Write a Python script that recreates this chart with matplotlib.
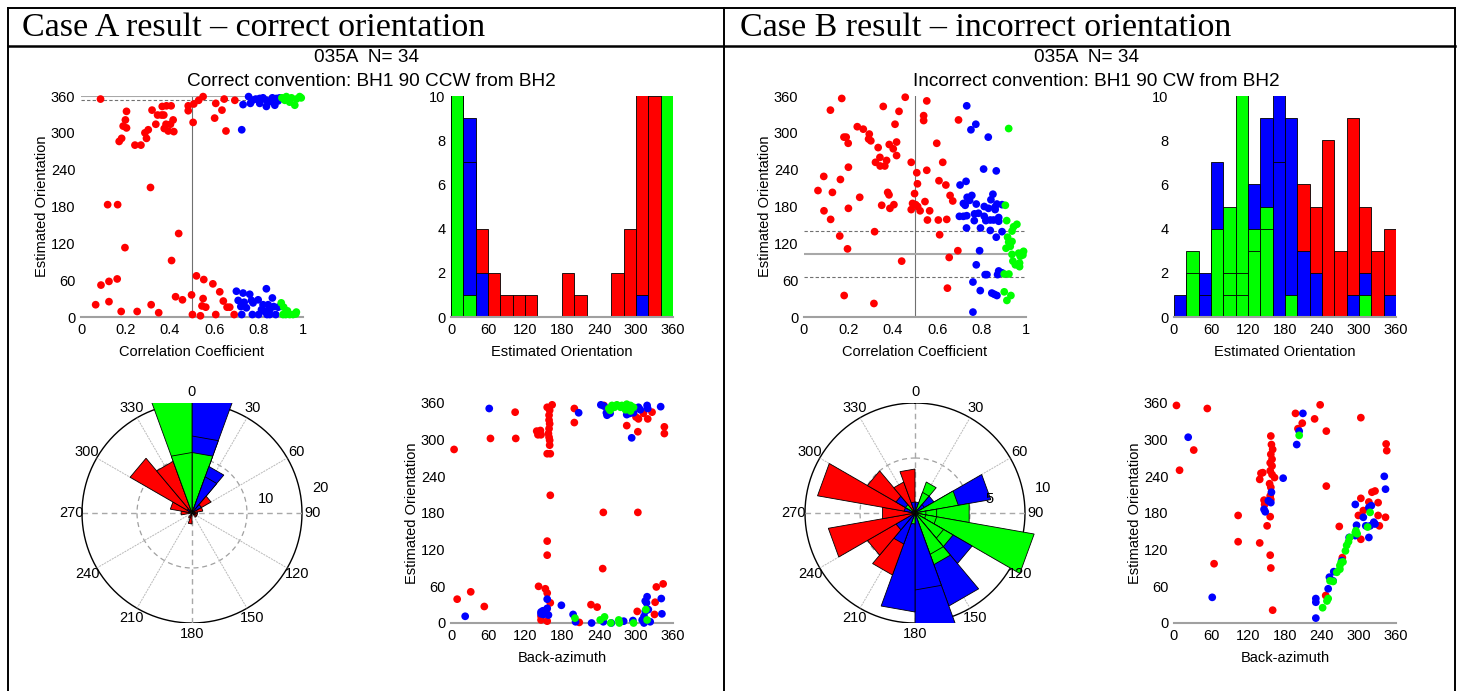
import numpy as np
import matplotlib.pyplot as plt
from matplotlib.lines import Line2D

plt.rcParams['font.family'] = ['Liberation Sans', 'DejaVu Sans']

RED, BLUE, GREEN = '#ff0000', '#0000ff', '#00ff00'
COL = {'r': RED, 'b': BLUE, 'g': GREEN}

# ---------------- Case A : correct orientation ----------------
# estimated orientation vs correlation coefficient  (cc, orientation)
a_cc_red = [(0.088, 355), (0.205, 335), (0.20, 321), (0.19, 311), (0.205, 308), (0.183, 291),
            (0.172, 286), (0.243, 280), (0.27, 280), (0.295, 291), (0.288, 300), (0.303, 305),
            (0.32, 337), (0.337, 314), (0.345, 329), (0.363, 329), (0.373, 329), (0.366, 343),
            (0.385, 344), (0.406, 344), (0.383, 314), (0.375, 307), (0.393, 303), (0.418, 302),
            (0.415, 321), (0.403, 314), (0.483, 344), (0.483, 336), (0.505, 317), (0.508, 347),
            (0.55, 359), (0.53, 353), (0.607, 348), (0.602, 324), (0.635, 337), (0.645, 355),
            (0.653, 303), (0.693, 353), (0.313, 211), (0.12, 183), (0.165, 183), (0.198, 113),
            (0.44, 136), (0.408, 92), (0.066, 20), (0.09, 52), (0.126, 58), (0.163, 62),
            (0.126, 25), (0.181, 9), (0.253, 9), (0.316, 20), (0.35, 7), (0.426, 33),
            (0.457, 28), (0.498, 36), (0.502, 4), (0.52, 67), (0.553, 61), (0.55, 30),
            (0.545, 18), (0.562, 16), (0.538, 2), (0.594, 54), (0.625, 41), (0.641, 26),
            (0.658, 16), (0.67, 16), (0.607, 4), (0.69, 4)]
a_cc_blue = [(0.724, 305), (0.73, 346), (0.755, 359), (0.763, 348), (0.787, 355), (0.805, 348),
             (0.82, 357), (0.835, 353), (0.835, 343), (0.853, 351), (0.873, 345), (0.88, 356),
             (0.888, 352), (0.772, 353), (0.805, 356), (0.862, 357), (0.895, 357),
             (0.70, 42), (0.73, 39), (0.708, 27), (0.72, 17), (0.724, 4), (0.735, 24),
             (0.745, 15), (0.76, 37), (0.768, 27), (0.775, 23), (0.798, 28), (0.80, 4),
             (0.813, 12), (0.828, 9), (0.835, 46), (0.843, 20), (0.85, 4), (0.862, 31),
             (0.868, 17), (0.877, 4), (0.888, 16), (0.82, 20), (0.85, 12), (0.772, 4), (0.838, 4)]
a_cc_green = [(0.902, 23), (0.913, 16), (0.922, 4), (0.93, 10), (0.94, 4), (0.97, 8),
              (0.967, 5), (0.91, 4), (0.955, 4), (0.905, 357), (0.925, 359), (0.948, 357),
              (0.963, 345), (0.985, 359), (0.918, 353), (0.97, 355), (0.94, 350), (0.992, 357)]
a_mean, a_std = 359.5, 6.0

# estimated orientation vs back-azimuth  (baz, orientation)
a_baz_red = [(5, 284), (10, 39), (32, 51), (54, 27), (64, 302), (105, 302), (104, 345),
             (139, 314), (141, 308), (145, 315), (146, 308), (142, 60), (146, 5), (146, 11),
             (153, 56), (156, 49), (156, 353), (159, 340), (159, 332), (160, 326), (159, 318),
             (158, 310), (159, 304), (160, 299), (160, 291), (156, 277), (161, 277), (164, 357),
             (161, 209), (156, 134), (156, 111), (155, 22), (156, 3), (161, 33), (160, 348),
             (200, 351), (200, 328), (208, 1), (227, 30), (237, 26), (247, 181), (246, 89),
             (248, 356), (285, 323), (303, 313), (303, 181), (304, 334), (300, 337), (312, 343),
             (319, 334), (326, 345), (333, 59), (344, 64), (346, 321), (346, 310), (330, 14),
             (331, 34), (302, 19)]
a_baz_blue = [(23, 11), (62, 351), (179, 29), (156, 24), (156, 39), (149, 20), (146, 18),
              (146, 15), (150, 14), (158, 13), (198, 14), (202, 2), (207, 344), (228, 0),
              (243, 357), (248, 355), (253, 340), (252, 344), (258, 343), (260, 0), (285, 341),
              (290, 343), (293, 303), (296, 344), (304, 353), (307, 349), (318, 356), (319, 351),
              (340, 354), (310, 5), (313, 0), (313, 11), (315, 19), (318, 43), (315, 36),
              (317, 33), (320, 22), (323, 2), (342, 15), (341, 40), (280, 3), (295, 4), (247, 2)]
a_baz_green = [(201, 8), (242, 5), (249, 10), (259, 0), (272, 5), (273, 0), (296, 0), (316, 22),
               (318, 5), (256, 351), (261, 356), (269, 357), (277, 356), (285, 358), (291, 356),
               (296, 353), (291, 347), (283, 349), (275, 353), (265, 353), (258, 348)]

# counts per 20-degree bin, overlaid layers (colour, top)
a_hist = [[('g', 11), ('b', 14), ('b', 23)], [('g', 1), ('b', 7), ('b', 9)], [('b', 2), ('r', 4)],
          [('r', 2)], [('r', 1)], [('r', 1)], [('r', 1)], [], [], [('r', 2)], [('r', 1)], [], [],
          [('r', 2)], [('r', 4)], [('b', 1), ('r', 13)], [('r', 10)], [('g', 11), ('g', 23)]]

# ---------------- Case B : incorrect orientation ----------------
b_cc_red = [(0.063, 206), (0.089, 229), (0.09, 173), (0.119, 337), (0.128, 203), (0.12, 159),
            (0.161, 132), (0.164, 224), (0.17, 356), (0.18, 293), (0.19, 293), (0.199, 283),
            (0.2, 244), (0.2, 177), (0.181, 35), (0.196, 111), (0.24, 310), (0.251, 195),
            (0.267, 306), (0.291, 290), (0.294, 298), (0.301, 287), (0.334, 276), (0.342, 260),
            (0.322, 252), (0.343, 246), (0.364, 246), (0.372, 255), (0.357, 343), (0.35, 182),
            (0.377, 203), (0.383, 199), (0.384, 281), (0.387, 177), (0.405, 183), (0.402, 274),
            (0.41, 314), (0.417, 285), (0.417, 263), (0.428, 335), (0.456, 358), (0.318, 139),
            (0.44, 91), (0.315, 22), (0.483, 252), (0.489, 185), (0.483, 175), (0.498, 201),
            (0.508, 235), (0.511, 217), (0.503, 183), (0.512, 180), (0.523, 173), (0.539, 328),
            (0.539, 320), (0.553, 352), (0.545, 188), (0.553, 239), (0.556, 158), (0.566, 173),
            (0.598, 283), (0.608, 222), (0.605, 158), (0.611, 134), (0.625, 252), (0.639, 215),
            (0.643, 159), (0.646, 47), (0.658, 198), (0.67, 189), (0.654, 97), (0.696, 321),
            (0.693, 108)]
b_cc_blue = [(0.733, 344), (0.752, 305), (0.774, 314), (0.83, 293), (0.809, 241), (0.866, 238),
             (0.703, 215), (0.73, 221), (0.735, 195), (0.746, 190), (0.756, 198), (0.718, 185),
             (0.726, 182), (0.70, 164), (0.718, 164), (0.733, 165), (0.732, 145), (0.768, 168),
             (0.767, 157), (0.786, 169), (0.776, 184), (0.795, 145), (0.812, 164), (0.819, 157),
             (0.812, 180), (0.831, 177), (0.842, 191), (0.851, 200), (0.86, 179), (0.839, 158),
             (0.854, 158), (0.869, 184), (0.877, 162), (0.861, 175), (0.877, 156), (0.839, 141),
             (0.866, 130), (0.892, 139), (0.892, 183), (0.791, 108), (0.776, 85), (0.761, 57),
             (0.761, 8), (0.794, 43), (0.816, 69), (0.824, 69), (0.846, 39), (0.857, 37),
             (0.869, 35), (0.872, 69), (0.877, 75), (0.892, 72)]
b_cc_green = [(0.907, 182), (0.913, 157), (0.922, 307), (0.917, 130), (0.922, 122), (0.929, 115),
              (0.91, 112), (0.937, 140), (0.944, 147), (0.959, 151), (0.937, 102), (0.941, 91),
              (0.952, 85), (0.971, 88), (0.971, 82), (0.967, 104), (0.982, 104), (0.986, 101),
              (0.974, 99), (0.989, 107), (0.923, 70), (0.902, 70), (0.902, 41), (0.932, 35),
              (0.914, 27), (0.937, 123)]
b_mean, b_std = 103.0, 37.5

b_baz_red = [(4, 356), (9, 250), (54, 351), (32, 283), (65, 97), (104, 176), (104, 133),
             (139, 235), (139, 131), (141, 245), (144, 246), (146, 201), (147, 194), (151, 159),
             (156, 174), (157, 306), (158, 292), (160, 284), (157, 276), (159, 268), (156, 262),
             (159, 257), (156, 249), (159, 243), (155, 228), (157, 222), (156, 208), (157, 202),
             (156, 111), (157, 90), (160, 21), (163, 238), (197, 343), (201, 318), (208, 327),
             (228, 334), (237, 357), (247, 314), (247, 224), (268, 158), (273, 107), (303, 336),
             (303, 204), (303, 137), (299, 176), (307, 184), (316, 198), (321, 214), (326, 216),
             (331, 197), (331, 176), (333, 159), (344, 293), (345, 282), (343, 173), (246, 45)]
b_baz_blue = [(23, 304), (62, 42), (177, 237), (158, 214), (157, 197), (153, 200), (146, 186),
              (148, 182), (199, 292), (203, 314), (209, 343), (230, 8), (230, 40), (230, 34),
              (250, 56), (252, 75), (258, 69), (259, 84), (272, 102), (284, 140), (294, 194),
              (296, 160), (294, 143), (307, 173), (316, 189), (320, 192), (316, 140), (311, 159),
              (324, 165), (326, 162), (318, 159), (341, 240), (343, 219)]
b_baz_green = [(203, 307), (241, 25), (248, 36), (250, 40), (253, 69), (258, 68), (264, 83),
               (269, 88), (271, 99), (278, 118), (280, 127), (283, 133), (285, 140), (294, 148),
               (297, 146), (295, 151), (314, 157), (318, 181), (274, 100), (269, 94)]

b_hist = [[('b', 1)], [('g', 2), ('g', 3)], [('b', 1), ('b', 2)], [('g', 4), ('b', 7)],
          [('g', 1), ('g', 2), ('g', 5)], [('g', 1), ('g', 2), ('g', 11)],
          [('g', 3), ('g', 4), ('b', 6)], [('g', 4), ('g', 5), ('b', 9)], [('b', 7), ('b', 11)],
          [('g', 1), ('b', 9)], [('b', 3), ('r', 6)], [('b', 2), ('r', 5)], [('r', 8)],
          [('r', 3)], [('b', 1), ('r', 9)], [('g', 1), ('b', 2), ('r', 5)], [('r', 3)],
          [('b', 1), ('r', 4)]]

bin_edges = np.arange(0, 360, 20)

W, H = 1462, 691
fig = plt.figure(figsize=(W / 100, H / 100), dpi=100)
FS = 10.5


def px_axes(x0, y0, x1, y1):
    return fig.add_axes([x0 / W, 1 - y1 / H, (x1 - x0) / W, (y1 - y0) / H])


def frame_line(xs, ys, lw=1.4):
    fig.add_artist(Line2D([x / W for x in xs], [1 - y / H for y in ys], color='k', lw=lw))


def style(ax):
    for s in ('top', 'right', 'left'):
        ax.spines[s].set_visible(False)
    ax.spines['bottom'].set_color('#a0a0a0')
    ax.spines['bottom'].set_linewidth(1.5)
    ax.tick_params(length=0, pad=4, labelsize=FS)


def dots(ax, pts, color):
    x, y = np.array(pts, dtype=float).T
    ax.scatter(x, y, s=31, c=color, edgecolors='none', zorder=3, clip_on=False)


def labels(ax, xl, yl=None, dx=-0.175, dy=-0.16):
    ax.set_xlabel(xl, fontsize=FS, va='center')
    ax.xaxis.set_label_coords(0.5, dy)
    if yl:
        ax.set_ylabel(yl, fontsize=FS, va='center')
        ax.yaxis.set_label_coords(dx, 0.5)


def corr_panel(x0, red, blue, green, mean, std):
    ax = px_axes(x0, 96, x0 + 222, 317)
    style(ax)
    ax.axvline(0.5, color='#707070', lw=0.8, zorder=1)
    ax.axhline(mean, color='#a8a8a8', lw=1.5, zorder=1)
    for v in (mean - std, mean + std):
        ax.axhline(v, color='#707070', lw=0.8, ls=(0, (3, 2)), zorder=1)
    dots(ax, red, RED)
    dots(ax, blue, BLUE)
    dots(ax, green, GREEN)
    ax.set_xlim(0, 1)
    ax.set_ylim(0, 360)
    ax.set_xticks([0, 0.2, 0.4, 0.6, 0.8, 1])
    ax.set_xticklabels(['0', '0.2', '0.4', '0.6', '0.8', '1'])
    ax.set_yticks(range(0, 361, 60))
    labels(ax, 'Correlation Coefficient', 'Estimated Orientation')


def hist_panel(x0, segs):
    ax = px_axes(x0, 96, x0 + 222, 317)
    style(ax)
    for i, seg in enumerate(segs):
        for c, top in sorted(seg, key=lambda t: -t[1]):
            ax.bar(bin_edges[i], top, width=20, align='edge', color=COL[c],
                   edgecolor='k', linewidth=0.6, zorder=2)
    ax.set_xlim(0, 360)
    ax.set_ylim(0, 10)
    ax.set_xticks(range(0, 361, 60))
    ax.set_yticks(range(0, 11, 2))
    labels(ax, 'Estimated Orientation')


def baz_panel(x0, red, blue, green):
    ax = px_axes(x0, 403, x0 + 222, 623)
    style(ax)
    dots(ax, red, RED)
    dots(ax, blue, BLUE)
    dots(ax, green, GREEN)
    ax.set_xlim(0, 360)
    ax.set_ylim(0, 360)
    ax.set_xticks(range(0, 361, 60))
    ax.set_yticks(range(0, 361, 60))
    labels(ax, 'Back-azimuth', 'Estimated Orientation', dy=-0.16)


def rose_panel(cx, segs, rmax):
    hw = 165
    ax = px_axes(cx - hw, 403, cx + hw, 623)
    ax.set_xlim(-rmax * hw / 110, rmax * hw / 110)
    ax.set_ylim(-rmax, rmax)
    ax.axis('off')
    t = np.linspace(0, 2 * np.pi, 361)
    ax.plot(rmax * np.sin(t), rmax * np.cos(t), color='k', lw=1.0, zorder=1)
    ax.plot(rmax / 2 * np.sin(t), rmax / 2 * np.cos(t), color='#a0a0a0', lw=0.9,
            ls=(0, (4, 3)), zorder=1)
    for a in range(0, 180, 30):
        s, c = np.sin(np.radians(a)), np.cos(np.radians(a))
        if a % 90 == 0:
            ax.plot([-rmax * s, rmax * s], [-rmax * c, rmax * c], color='#a8a8a8', lw=1.0,
                    ls=(0, (4, 3)), zorder=1)
        else:
            ax.plot([-rmax * s, rmax * s], [-rmax * c, rmax * c], color='#b8b8b8', lw=0.7,
                    ls=(0, (2, 1)), zorder=1)
    for a in range(0, 360, 30):
        s, c = np.sin(np.radians(a)), np.cos(np.radians(a))
        ax.text(1.1 * rmax * s, 1.1 * rmax * c, str(a), ha='center', va='center',
                fontsize=FS, clip_on=False)
    for r in (rmax / 2, rmax):
        rr = r + 0.19 * rmax
        ax.text(rr * np.sin(np.radians(79)), rr * np.cos(np.radians(79)), f'{r:g}',
                ha='center', va='center', fontsize=FS, zorder=5)
    for i, seg in enumerate(segs):
        a1, a2 = np.radians(bin_edges[i]), np.radians(bin_edges[i] + 20)
        for c, top in sorted(seg, key=lambda t: -t[1]):
            ax.fill([0, top * np.sin(a1), top * np.sin(a2)], [0, top * np.cos(a1), top * np.cos(a2)],
                    facecolor=COL[c], edgecolor='k', lw=0.6, zorder=2)


# table frame
frame_line([8, 1455], [8, 8])
frame_line([8, 1455], [46, 46], lw=1.8)
for xv in (8, 724, 1455):
    frame_line([xv, xv], [8, 691])

fig.text(22 / W, 1 - 28 / H, 'Case A result \u2013 correct orientation', family='Liberation Serif',
         fontsize=24.5, va='center', ha='left')
fig.text(740 / W, 1 - 28 / H, 'Case B result \u2013 incorrect orientation', family='Liberation Serif',
         fontsize=24.5, va='center', ha='left')

fig.text(366 / W, 1 - 58 / H, '035A  N= 34', ha='center', va='center', fontsize=13.7)
fig.text(371 / W, 1 - 82 / H, 'Correct convention: BH1 90 CCW from BH2', ha='center', va='center',
         fontsize=13.7)
fig.text(1087 / W, 1 - 58 / H, '035A  N= 34', ha='center', va='center', fontsize=13.7)
fig.text(1096 / W, 1 - 82 / H, 'Incorrect convention: BH1 90 CW from BH2', ha='center',
         va='center', fontsize=13.7)

corr_panel(81, a_cc_red, a_cc_blue, a_cc_green, a_mean, a_std)
hist_panel(451, a_hist)
rose_panel(192, a_hist, 20)
baz_panel(451, a_baz_red, a_baz_blue, a_baz_green)

corr_panel(804, b_cc_red, b_cc_blue, b_cc_green, b_mean, b_std)
hist_panel(1174, b_hist)
rose_panel(915, b_hist, 10)
baz_panel(1174, b_baz_red, b_baz_blue, b_baz_green)

fig.savefig('out.png', dpi=100)
